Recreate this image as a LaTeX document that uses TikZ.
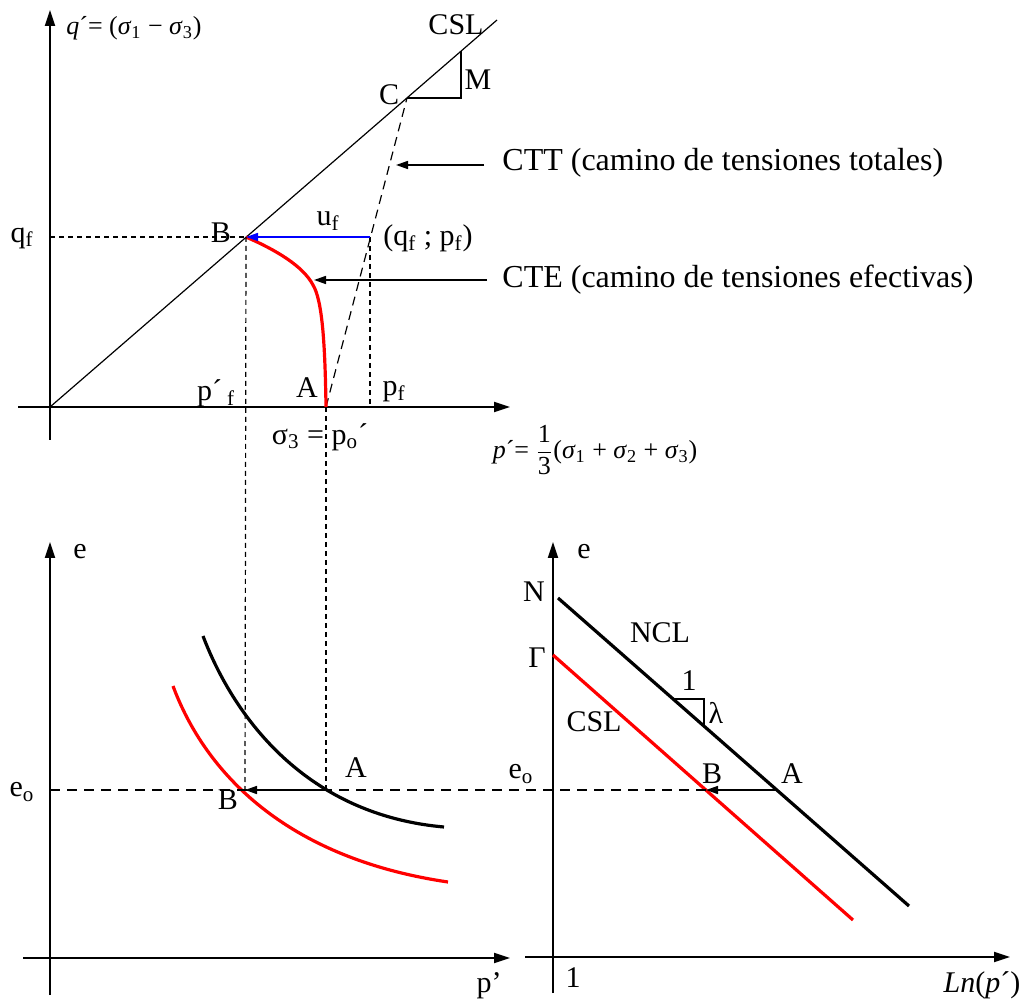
\documentclass[tikz,border=0pt]{standalone}
\usepackage{amsmath}
\usepackage{fontspec}
\setmainfont{Liberation Serif}
\usepackage{tikz}
\usetikzlibrary{arrows.meta}

\begin{document}
\begin{tikzpicture}[
    x=0.5pt, y=-0.5pt,
    font=\fontsize{15}{17}\selectfont,
    axis/.style={line width=1pt, -{Triangle[length=8pt,width=5pt]}},
    guide/.style={line width=0.6pt, dash pattern=on 2.5pt off 2pt},
    eguide/.style={line width=0.6pt, dash pattern=on 5pt off 3.5pt},
    ctt/.style={line width=0.6pt, dash pattern=on 4.5pt off 3pt},
    slopeline/.style={line width=0.6pt},
    redpath/.style={red, line width=1.6pt},
    blkpath/.style={black, line width=1.6pt},
    pointer/.style={line width=0.8pt, -{Triangle[length=6pt,width=4pt]}},
    formula/.style={font=\fontsize{13}{15}\selectfont},
    caption/.style={font=\fontsize{16}{19}\selectfont, anchor=west, inner sep=0pt}
]
\useasboundingbox (0,0) rectangle (1027,1004);

% plano q - p'
\coordinate (O) at (50,407);
\coordinate (csltop) at (497,20);
\coordinate (C) at (407,98);
\coordinate (Mc) at (461,98);
\coordinate (Mt) at (461,51);
\coordinate (B) at (246,237);
\coordinate (A) at (326,407);
\coordinate (qp) at (370,237);
\coordinate (cttpt) at (396,165);
\coordinate (cttend) at (484,165);
\coordinate (ctept) at (314,280);
\coordinate (cteend) at (487,280);

\draw[axis] (50,440) -- (50,10);
\draw[axis] (18,407) -- (510,407);
\draw[slopeline] (O) -- (csltop);
\draw[slopeline] (C) -- (Mc) -- (Mt);
\draw[ctt] (A) -- (C);
\draw[guide] (O |- B) -- (B);
\draw[guide] (qp) -- (qp |- O);
\draw[redpath] (A) .. controls (325,340) and (322,300) .. (313,285)
    .. controls (303,266) and (276,250) .. (B);
\draw[pointer, blue] (qp) -- (B);
\draw[pointer] (cttend) -- (cttpt);
\draw[pointer] (cteend) -- (ctept);

\node[formula] (qform) at (134,28) {\textit{q}´= (\textit{σ}\textsubscript{1} − \textit{σ}\textsubscript{3})};
\node (lblcsl) at (456,25) {CSL};
\node (lblM) at (478,80) {M};
\node (lblC) at (389,95) {C};
\node (lblqf) at (22,238) {q\textsubscript{f}};
\node (lblB) at (221,233) {B};
\node (lbluf) at (328,221) {u\textsubscript{f}};
\node (lblqp) at (428,238) {(q\textsubscript{f} ; p\textsubscript{f})};
\node (lblpfe) at (216,393) {p´\,\textsubscript{f}};
\node (lblA) at (307,388) {A};
\node (lblpf) at (394,392) {p\textsubscript{f}};
\node (lblpo) at (320,437) {σ\textsubscript{3} = p\textsubscript{o}´};
\node[formula] (pform) at (595,450) {\textit{p}´= $\dfrac{\text{1}}{\text{3}}$(\textit{σ}\textsubscript{1} + \textit{σ}\textsubscript{2} + \textit{σ}\textsubscript{3})};
\node[caption] (cttcap) at (502,163) {CTT (camino de tensiones totales)};
\node[caption] (ctecap) at (502,280) {CTE (camino de tensiones efectivas)};

% plano e - p'
\coordinate (Al) at (326,790);
\coordinate (Bl) at (245,790);

\draw[axis] (50,995) -- (50,542);
\draw[axis] (23,958) -- (510,958);
\draw[guide] (B) -- (Bl);
\draw[guide] (A) -- (Al);
\draw[blkpath] (203,636) .. controls (235,720) and (308,815) .. (444,827);
\draw[redpath] (173,686) .. controls (205,772) and (285,858) .. (448,882);

\node (lble) at (80,552) {e};
\node (lblpp) at (489,986) {p’};
\node (lbleo) at (22,792) {e\textsubscript{o}};
\node (lblAl) at (356,768) {A};
\node (lblBl) at (228,800) {B};

% plano e - Ln(p')
\coordinate (Ar) at (777,790);
\coordinate (Br) at (706,790);

\draw[axis] (553,993) -- (553,542);
\draw[axis] (525,957) -- (1010,957);
\draw[blkpath] (558,598) -- (909,906);
\draw[redpath] (553,655) -- (853,920);
\draw[slopeline] (673,699) -- (704,699) -- (704,726);
\draw[eguide] (O |- Bl) -- (Br);
\draw[pointer] (Al) -- (Bl);
\draw[pointer] (Ar) -- (Br);

\node (lbler) at (584,552) {e};
\node (lblone) at (573,978) {1};
\node (lblln) at (982,985) {\textit{Ln}(\textit{p}´)};
\node (lblN) at (534,592) {N};
\node (lblG) at (537,658) {Γ};
\node (lblncl) at (660,633) {NCL};
\node (lblcslr) at (594,722) {CSL};
\node (lblrun) at (689,681) {1};
\node (lbllam) at (716,713) {λ};
\node (lbleor) at (521,774) {e\textsubscript{o}};
\node (lblAr) at (792,774) {A};
\node (lblBr) at (712,774) {B};
\end{tikzpicture}
\end{document}
